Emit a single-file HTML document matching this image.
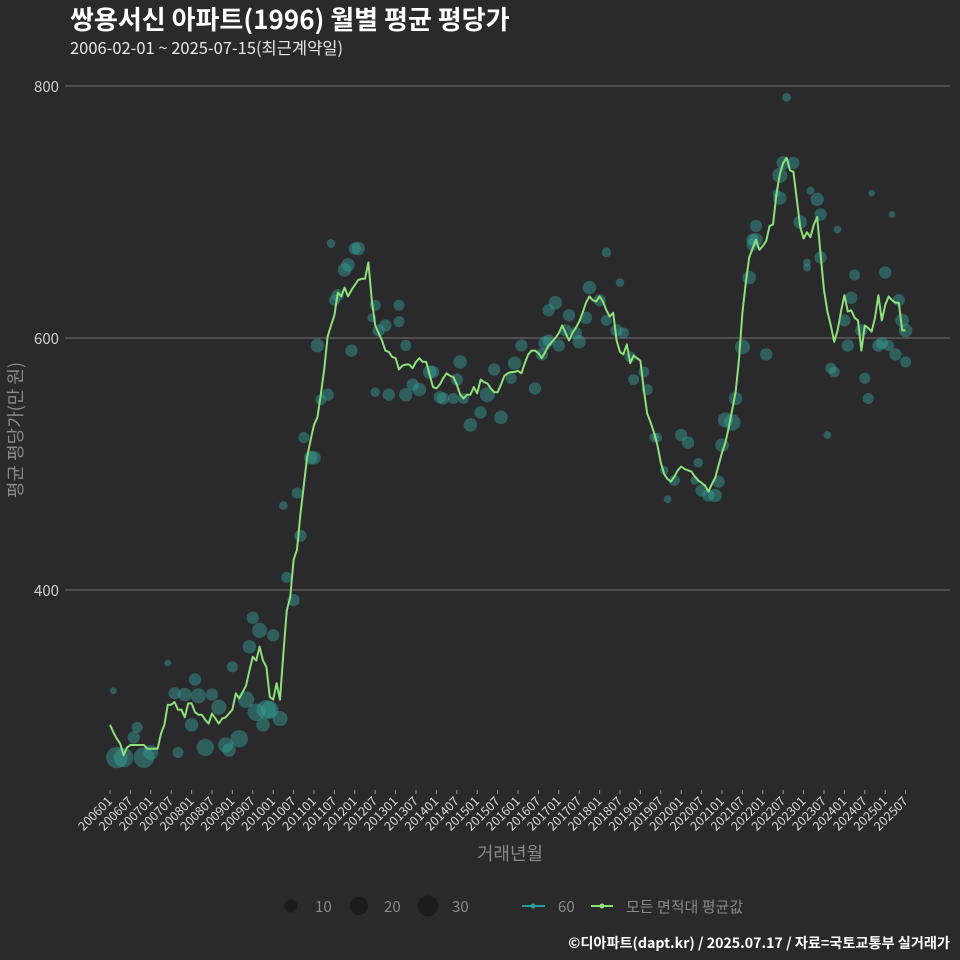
<!DOCTYPE html>
<html><head><meta charset="utf-8">
<style>
html,body{margin:0;padding:0;background:#2a292b;}
svg{display:block;font-family:"Noto Sans CJK KR","Liberation Sans",sans-serif;}
</style></head>
<body>
<svg id="chart" width="960" height="960" viewBox="0 0 960 960">
<rect x="0" y="0" width="960" height="960" fill="#2a292b"/>
<text x="70" y="29" fill="#ffffff" font-size="26" font-weight="bold">쌍용서신 아파트(1996) 월별 평균 평당가</text>
<text x="70" y="54" fill="#e8e8e8" font-size="16.5">2006-02-01 ~ 2025-07-15(최근계약일)</text>
<g id="grid"></g>
<g id="yaxis"></g>
<g id="xaxis"></g>
<g id="dots"></g>
<g id="line"></g>
<text transform="translate(22,430) rotate(-90)" text-anchor="middle" fill="#8a8a8a" font-size="18">평균 평당가(만 원)</text>
<text x="510" y="860" text-anchor="middle" fill="#8a8a8a" font-size="18">거래년월</text>
<g>
<circle cx="291" cy="906" r="6.5" fill="#1c1b1d"/>
<text x="315" y="912" fill="#8a8a8a" font-size="15">10</text>
<circle cx="359" cy="906" r="9" fill="#1c1b1d"/>
<text x="384" y="912" fill="#8a8a8a" font-size="15">20</text>
<circle cx="428" cy="906" r="10.5" fill="#1c1b1d"/>
<text x="452" y="912" fill="#8a8a8a" font-size="15">30</text>
<line x1="522" y1="906" x2="545" y2="906" stroke="#2a9d9a" stroke-width="2"/>
<circle cx="533" cy="906" r="2.5" fill="#2a9d9a"/>
<text x="558" y="912" fill="#8a8a8a" font-size="15">60</text>
<line x1="591" y1="906" x2="613" y2="906" stroke="#8de07a" stroke-width="2"/>
<circle cx="602" cy="906" r="2.5" fill="#8de07a"/>
<text x="626" y="912" fill="#8a8a8a" font-size="15">모든 면적대 평균값</text>
</g>
<text x="950" y="948" text-anchor="end" fill="#ffffff" font-size="14.2" font-weight="bold">©디아파트(dapt.kr) / 2025.07.17 / 자료=국토교통부 실거래가</text>
</svg>
<script>
const yTicks = [400, 600, 800];
const startYear = 2006;
const avgValues = [293,287,282,278,269,275,277,277,277,277,277,274,274,274,274,286,293,309,309,311,305,305,299,310,310,303,301,301,297,294,302,298,294,298,299,302,305,318,314,319,324,336,347,344,355,344,339,315,313,326,313,350,384,394,424,432,
460,483,506,519,531,537,555,575,601,610,618,636,633,640,633,638,642,646,647,647,660,630,610,604,598,590,589,585,584,575,578,579,579,576,581,584,581,581,571,561,560,563,568,572,570,569,563,555,552,555,555,561,556,567,565,564,560,557,557,563,570,572,573,573,574,572,580,587,590,590,588,584,589,594,597,600,604,610,604,598,604,608,613,620,628,633,630,629,633,
629,622,617,620,598,589,587,595,580,586,584,582,559,540,533,525,515,501,492,488,486,490,495,498,496,495,494,490,487,485,483,478,484,489,499,509,517,529,543,557,583,620,644,664,671,678,670,673,677,689,690,714,730,739,743,733,732,710,688,679,684,680,690,696,666,638,621,610,597,606,621,634,621,622,616,614,590,610,608,605,616,634,614,626,633,630,628,628,606,606];
const dotMonths = [1,2,4,7,8,10,12,17,19,20,22,24,25,26,28,30,32,34,35,36,38,40,41,42,43,44,45,46,47,48,50,52,54,51,55,56,59,60,57,61,62,64,65,66,67,69,70,71,72,73,77,78,79,81,78,82,85,85,87,87,89,91,94,95,97,98,101,102,103,104,106,109,111,113,115,118,119,121,125,127,128,129,129,131,132,134,135,137,138,140,141,144,146,146,149,151,153,154,150,157,158,160,161,163,164,166,168,170,172,173,174,178,176,179,180,181,183,184,186,188,189,190,189,190,193,196,197,197,198,199,201,203,205,205,206,208,209,209,211,212,213,214,216,217,218,219,221,222,223,224,226,227,228,229,230,231,232,233,234,234];
const dotValues = [320,267,267,283,291,267,271,342,318,271,317,293,329,316,275,317,307,277,273,339,282,313,355,378,303,368,293,305,305,364,298,410,392,467,477,443,505,505,521,594,551,555,675,630,634,654,658,590,671,671,616,626,606,610,557,555,626,613,555,594,563,559,573,573,553,552,552,567,581,552,531,541,555,575,537,568,580,594,560,587,596,598,622,628,594,606,618,604,597,616,640,630,668,614,606,604,585,567,644,573,559,521,521,495,472,487,523,517,487,501,479,475,475,486,515,535,533,552,593,648,678,689,674,678,587,715,711,729,739,791,739,692,656,660,717,710,698,664,523,576,573,686,614,594,632,650,606,568,552,715,594,596,652,594,698,587,630,614,581,606];
const dotCounts = [3,30,25,10,8,28,15,3,10,8,12,12,10,15,20,10,15,15,12,8,20,18,12,10,20,15,12,25,20,10,15,8,10,5,8,10,12,12,8,12,8,10,5,8,10,12,12,10,10,12,5,8,10,10,6,10,8,8,12,8,10,12,12,10,10,10,8,10,12,8,12,10,15,10,12,8,12,10,10,10,12,10,10,12,10,10,10,10,12,10,12,10,6,8,10,8,8,8,5,8,8,6,6,5,4,8,10,10,5,6,10,12,10,10,12,15,18,12,15,12,10,10,10,12,10,4,12,15,12,5,10,12,4,4,4,12,10,10,4,8,8,4,10,10,10,8,10,8,8,3,10,10,10,8,3,10,10,12,8,12];

const NS = 'http://www.w3.org/2000/svg';
const x0 = 110, mw = 3.4;
function xScale(m){ return x0 + m*mw; }
function yScale(v){ return 338 - (v-600)*1.26; }
function mk(tag, attrs, parent){ const e=document.createElementNS(NS,tag); for(const k in attrs) e.setAttribute(k,attrs[k]); parent.appendChild(e); return e; }

const grid=document.getElementById('grid'), yax=document.getElementById('yaxis'), xax=document.getElementById('xaxis');
yTicks.forEach(t=>{
  const l=mk('line',{x1:65,x2:950,y1:yScale(t),y2:yScale(t),stroke:'#5c5b5d','stroke-width':1.5},grid);
  
  
  const tx=mk('text',{x:59,y:yScale(t)+6,'text-anchor':'end',fill:'#d0d0d0','font-size':15},yax);
  tx.textContent=t;
  
  
});
for(let m=0;m<avgValues.length;m+=6){
  const yr=startYear+Math.floor(m/12), mo=(m%12)+1;
  const lab=''+yr+(mo<10?'0':'')+mo;
  const x=xScale(m);
  const tk=mk('line',{x1:x,x2:x,y1:790,y2:794,stroke:'#9a9a9a','stroke-width':1},xax);
  
  
  const tx=mk('text',{x:x+3,y:802,'text-anchor':'end',fill:'#d8d8d8','font-size':12.5,transform:'rotate(-45 '+(x+3)+' 802)'},xax);
  tx.textContent=lab;
  
  
}
const dots=document.getElementById('dots');
for(let i=0;i<dotMonths.length;i++){
  const c=mk('circle',{cx:xScale(dotMonths[i]),cy:yScale(dotValues[i]),r:1.95*Math.sqrt(dotCounts[i]),fill:'#35a39c','fill-opacity':0.45},dots);
  
  
}
const pts=avgValues.map((v,i)=>xScale(i).toFixed(1)+','+yScale(v).toFixed(1)).join(' ');
const pl=mk('polyline',{points:pts,fill:'none',stroke:'#8de07a','stroke-width':2,'stroke-linejoin':'round'},document.getElementById('line'));


</script>
</body></html>
